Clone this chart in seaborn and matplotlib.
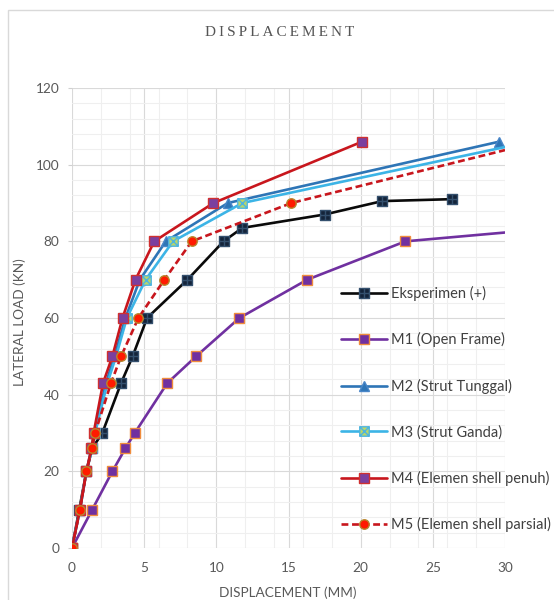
import matplotlib
matplotlib.use("Agg")
import matplotlib.pyplot as plt
import seaborn as sns
import pandas as pd
from matplotlib.patches import Rectangle
from matplotlib.path import Path
from matplotlib.ticker import MultipleLocator

# ---- data (displacement mm, lateral load kN) ----
exp_x = [0, 0.5, 1.0, 1.4, 2.1, 3.4, 4.2, 5.2, 8.0, 10.5, 11.8, 17.5, 21.5, 26.3]
exp_y = [0, 10, 20, 26, 30, 43, 50, 60, 70, 80, 83.5, 87, 90.5, 91]
m1_x = [0, 1.4, 2.8, 3.7, 4.35, 6.6, 8.6, 11.6, 16.3, 23.1, 30]
m1_y = [0, 10, 20, 26, 30, 43, 50, 60, 70, 80, 82.3]
m2_x = [0, 0.55, 1.0, 1.35, 1.55, 2.35, 2.95, 3.7, 4.7, 6.5, 10.8, 29.6]
m2_y = [0, 10, 20, 26, 30, 43, 50, 60, 70, 80, 90, 106]
m3_x = [0, 0.55, 1.0, 1.4, 1.6, 2.45, 3.05, 3.8, 5.1, 7.0, 11.8, 30]
m3_y = [0, 10, 20, 26, 30, 43, 50, 60, 70, 80, 90, 104.6]
m4_x = [0, 0.55, 1.0, 1.35, 1.5, 2.15, 2.8, 3.5, 4.4, 5.7, 9.8, 20.1]
m4_y = [0, 10, 20, 26, 30, 43, 50, 60, 70, 80, 90, 106]
m5_x = [0, 0.55, 1.0, 1.4, 1.6, 2.7, 3.4, 4.6, 6.4, 8.3, 15.2, 30]
m5_y = [0, 10, 20, 26, 30, 43, 50, 60, 70, 80, 90, 103.8]

labels = ["Eksperimen (+)", "M1 (Open Frame)", "M2 (Strut Tunggal)",
          "M3 (Strut Ganda)", "M4 (Elemen shell penuh)", "M5 (Elemen shell parsial)"]
x_ticks = [0, 5, 10, 15, 20, 25, 30]
y_ticks = [0, 20, 40, 60, 80, 100, 120]

sns.set_theme(style="white")
plt.rcParams["font.family"] = ["Lato", "DejaVu Sans"]

# marker shapes: square with plus, square with x
M, L, C = Path.MOVETO, Path.LINETO, Path.CLOSEPOLY
sq_v = [(-1, -1), (1, -1), (1, 1), (-1, 1), (-1, -1)]
sq_c = [M, L, L, L, C]
sq_plus = Path(sq_v + [(0, -1), (0, 1), (-1, 0), (1, 0)], sq_c + [M, L, M, L])
sq_x = Path(sq_v + [(-1, -1), (1, 1), (-1, 1), (1, -1)], sq_c + [M, L, M, L])

W, H = 554, 600
fig = plt.figure(figsize=(W / 100, H / 100), dpi=100)
ax = fig.add_axes([72 / W, 1 - 548 / H, (505 - 72) / W, (548 - 88) / H])

series = [
    (exp_x, exp_y, dict(color="#0a0a0a", marker=sq_plus, mfc="#14243a", mec="#34506e", linestyle="-")),
    (m1_x, m1_y, dict(color="#7030A0", marker="s", mfc="#7030A0", mec="#F08C3C", linestyle="-",
                      markevery=list(range(len(m1_x) - 1)))),
    (m2_x, m2_y, dict(color="#2E75B6", marker="^", mfc="#2E75B6", mec="#4a86c8", linestyle="-")),
    (m3_x, m3_y, dict(color="#3CB4E6", marker=sq_x, mfc="#B8D66A", mec="#4FB5E0", linestyle="-",
                      markevery=list(range(len(m3_x) - 1)))),
    (m4_x, m4_y, dict(color="#C8161D", marker="s", mfc="#7B3F9E", mec="#D03030", linestyle="-")),
    (m5_x, m5_y, dict(color="#C8161D", marker="o", mfc="#FF1A00", mec="#B8862B", linestyle=(0, (2.6, 1.4)),
                      markevery=list(range(len(m5_x) - 1)))),
]

for (xs, ys, kw), lab in zip(series, labels):
    df = pd.DataFrame({"x": xs, "y": ys})
    sns.lineplot(data=df, x="x", y="y", ax=ax, sort=False, estimator=None,
                 label=lab, lw=1.9, ms=6.8, markeredgewidth=1.0, zorder=3, clip_on=True, **kw)

ax.set_xlim(0, 30)
ax.set_ylim(0, 120)
ax.set_xticks(x_ticks)
ax.set_yticks(y_ticks)
ax.xaxis.set_minor_locator(MultipleLocator(2))
ax.yaxis.set_minor_locator(MultipleLocator(4))
ax.grid(True, which="major", color="#D9D9D9", lw=0.8)
ax.grid(True, which="minor", color="#EFEFEF", lw=0.8)
ax.set_axisbelow(True)
for s in ax.spines.values():
    s.set_visible(False)
ax.tick_params(axis="both", which="both", labelsize=9.8, labelcolor="#595959")
ax.tick_params(axis="y", which="major", length=3, color="#D0D0D0", width=0.8, pad=6, left=True)
ax.tick_params(axis="y", which="minor", length=0)
ax.tick_params(axis="x", which="both", length=0, pad=10)
ax.set_xlabel("")
ax.set_ylabel("")

fig.text(288 / W, 1 - 593 / H, "DISPLACEMENT (MM)", ha="center", va="center",
         fontsize=9.8, color="#595959")
fig.text(20 / W, 1 - 322 / H, "LATERAL LOAD (KN)", ha="center", va="center",
         rotation=90, fontsize=9.8, color="#595959")
fig.text(280 / W, 1 - 33 / H, "\u2009".join("DISPLACEMENT"), ha="center", va="center",
         fontsize=11, color="#555555", family=["Liberation Serif", "DejaVu Serif"])

leg = ax.legend(loc="upper left", bbox_to_anchor=(341 / W, 1 - 286 / H),
                bbox_transform=fig.transFigure, frameon=False, fontsize=10.5,
                labelspacing=2.15, handlelength=3.15, handletextpad=0.28, borderpad=0,
                borderaxespad=0)
for t in leg.get_texts():
    t.set_color("#404040")

fig.patches.append(Rectangle((8 / W, -0.05), 1.2, 1 - 10 / H + 0.05, transform=fig.transFigure,
                             fill=False, edgecolor="#D9D9D9", lw=1.0, zorder=0))

fig.savefig("out.png", dpi=100, facecolor="white")
